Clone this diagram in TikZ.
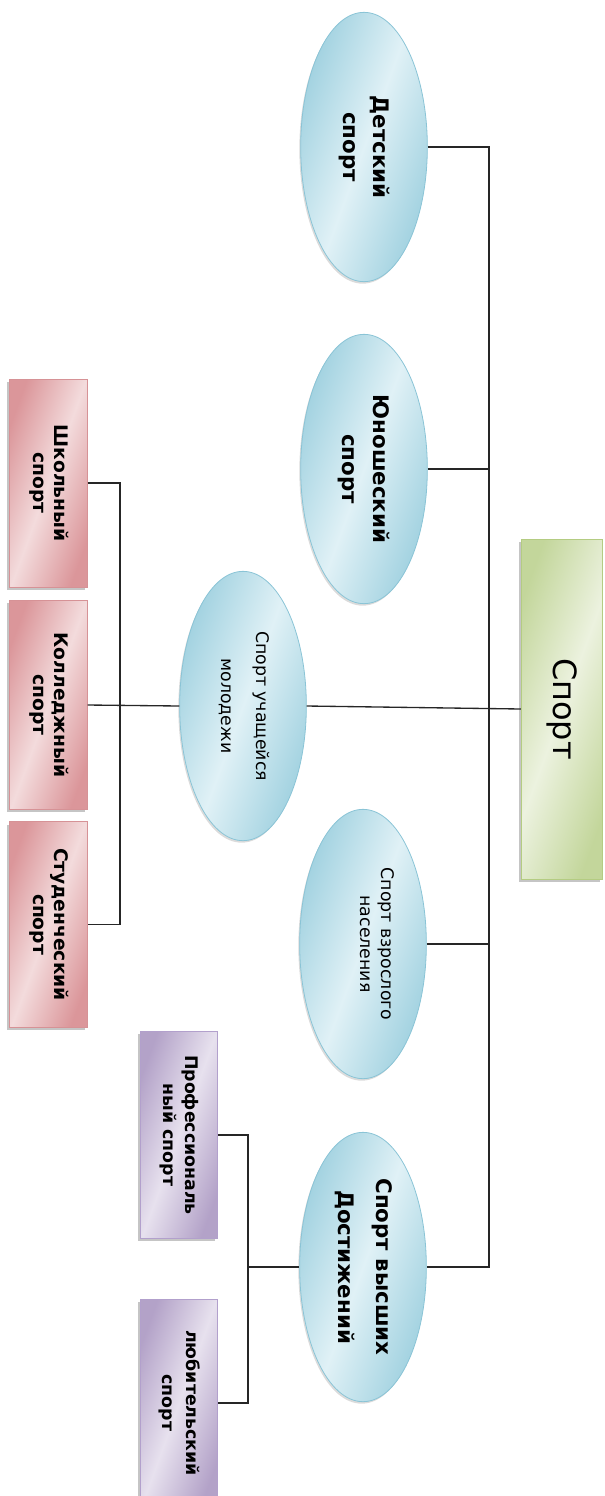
\documentclass[tikz,border=0pt]{standalone}
\usepackage{fontspec}
\setmainfont{DejaVu Sans}
\usetikzlibrary{shapes.geometric,shadows,calc}

\definecolor{ovalOut}{RGB}{158,208,223}
\definecolor{ovalIn}{RGB}{224,241,246}
\definecolor{ovalLine}{RGB}{138,196,214}
\definecolor{redOut}{RGB}{219,150,154}
\definecolor{redIn}{RGB}{243,219,220}
\definecolor{redLine}{RGB}{214,146,150}
\definecolor{lilaOut}{RGB}{179,162,200}
\definecolor{lilaIn}{RGB}{231,225,238}
\definecolor{lilaLine}{RGB}{178,160,204}
\definecolor{greenOut}{RGB}{195,214,155}
\definecolor{greenIn}{RGB}{236,242,223}
\definecolor{greenLine}{RGB}{180,204,130}

\newcommand{\vtwo}[3]{\rotatebox{-90}{\begin{tabular}{@{}c@{}}#2\\[#1]#3\end{tabular}}}

\tikzset{
  oval/.style={ellipse, draw=ovalLine, line width=0.6pt, inner sep=0pt,
    minimum width=95pt, minimum height=202pt,
    left color=ovalOut, right color=ovalOut, middle color=ovalIn, shading angle=70,
    drop shadow={shadow xshift=-1pt, shadow yshift=-1.5pt, fill=black!40, opacity=0.35}},
  redbox/.style={rectangle, draw=redLine, line width=0.6pt, inner sep=0pt,
    minimum width=58pt, left color=redOut, right color=redOut, middle color=redIn, shading angle=70,
    drop shadow={shadow xshift=-2pt, shadow yshift=-2pt, fill=black!45, opacity=0.5}},
  lilabox/.style={redbox, draw=lilaLine, left color=lilaOut, right color=lilaOut, middle color=lilaIn, shading angle=70},
  rootbox/.style={redbox, draw=greenLine, minimum width=61pt, minimum height=255pt,
    left color=greenOut, right color=greenOut, middle color=greenIn, shading angle=70},
  link/.style={draw=black!85, line width=1pt}
}

\begin{document}
\begin{tikzpicture}[x=0.75pt,y=0.75pt,yscale=-1,xscale=1]
\useasboundingbox (0,0) rectangle (605,1496);

%Shape: Ellipse
\node [oval] (detsky) at (364,147) {\vtwo{10pt}{\fontsize{16}{19}\selectfont\bfseries Детский}{\fontsize{16}{19}\selectfont\bfseries спорт}};
\node [oval] (yunosh) at (364,469) {\vtwo{11pt}{\fontsize{16}{19}\selectfont\bfseries Юношеский}{\fontsize{16}{19}\selectfont\bfseries спорт}};
\node [oval] (molod) at (243,706) {\vtwo{14pt}{\fontsize{13}{15.5}\selectfont Спорт учащейся}{\fontsize{13}{15.5}\selectfont молодежи}};
\node [oval] (vzrosl) at (363,944) {\hspace*{18pt}\vtwo{4pt}{\fontsize{13}{15.5}\selectfont Спорт взрослого}{\fontsize{13}{15.5}\selectfont населения}};
\node [oval] (vysh) at (363,1267) {\vtwo{12pt}{\fontsize{16}{19}\selectfont\bfseries Спорт высших}{\fontsize{16}{19}\selectfont\bfseries Достижений}};

%Shape: Rectangle
\node [rootbox] (sport) at (562,709) {\rotatebox{-90}{\fontsize{24}{28}\selectfont Спорт}};

\node [redbox, minimum height=156pt] (school) at (48.5,483) {\vtwo{4pt}{\fontsize{14}{16.5}\selectfont\bfseries Школьный}{\fontsize{14}{16.5}\selectfont\bfseries спорт}};
\node [redbox, minimum height=157pt] (college) at (48.5,705) {\vtwo{4pt}{\fontsize{14}{16.5}\selectfont\bfseries Колледжный}{\fontsize{14}{16.5}\selectfont\bfseries спорт}};
\node [redbox, minimum height=154pt] (student) at (48.5,924.5) {\vtwo{4pt}{\fontsize{14}{16.5}\selectfont\bfseries Студенческий}{\fontsize{14}{16.5}\selectfont\bfseries спорт}};

\node [lilabox, minimum height=155pt] (prof) at (179,1135) {\vtwo{3pt}{\fontsize{13}{15.5}\selectfont\bfseries Профессиональ}{\fontsize{13}{15.5}\selectfont\bfseries ный спорт}};
\node [lilabox, minimum height=155pt] (amateur) at (179,1403) {\vtwo{6pt}{\fontsize{13}{15.5}\selectfont\bfseries любительский}{\fontsize{13}{15.5}\selectfont\bfseries спорт}};

\coordinate (trunk) at (489,706);
\coordinate (rtrunk) at (120,706);
\coordinate (ptrunk) at (248,1267);

%Straight Lines
\draw [link] (detsky.east) -| (trunk |- vysh.east) -- (vysh.east);
\draw [link] (yunosh.east) -- (yunosh.east -| trunk);
\draw [link] (vzrosl.east) -- (vzrosl.east -| trunk);
\draw [link] (sport.west) -- (molod.east);

\draw [link] (school.east) -| (rtrunk |- student.east) -- (student.east);
\draw [link] (college.east) -- (molod.west);

\draw [link] (prof.east) -| (ptrunk |- amateur.east) -- (amateur.east);
\draw [link] (ptrunk) -- (vysh.west);

\end{tikzpicture}
\end{document}
